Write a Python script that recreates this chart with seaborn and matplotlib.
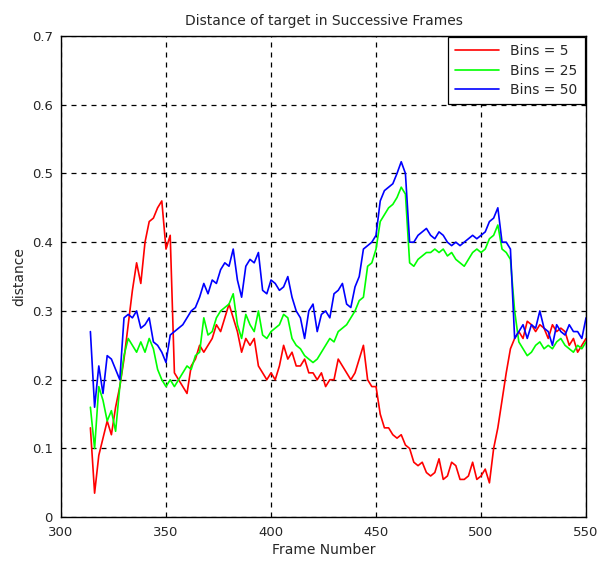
import pandas as pd
import numpy as np
import matplotlib
matplotlib.use("Agg")
import matplotlib.pyplot as plt
import seaborn as sns

# frames every 2 steps
frames = list(range(314, 551, 2))

bins5 = [0.13, 0.035, 0.09, 0.115, 0.14, 0.12, 0.16, 0.19, 0.23, 0.28,
         0.33, 0.37, 0.34, 0.40, 0.43, 0.435, 0.45, 0.46, 0.39, 0.41,
         0.21, 0.20, 0.19, 0.18, 0.22, 0.23, 0.25, 0.24, 0.25, 0.26,
         0.28, 0.27, 0.29, 0.31, 0.29, 0.27, 0.24, 0.26, 0.25, 0.26,
         0.22, 0.21, 0.20, 0.21, 0.20, 0.22, 0.25, 0.23, 0.24, 0.22,
         0.22, 0.23, 0.21, 0.21, 0.20, 0.21, 0.19, 0.20, 0.20, 0.23,
         0.22, 0.21, 0.20, 0.21, 0.23, 0.25, 0.20, 0.19, 0.19, 0.15,
         0.13, 0.13, 0.12, 0.115, 0.12, 0.105, 0.10, 0.08, 0.075, 0.08,
         0.065, 0.06, 0.065, 0.085, 0.055, 0.06, 0.08, 0.075, 0.055, 0.055,
         0.06, 0.08, 0.055, 0.06, 0.07, 0.05, 0.10, 0.13, 0.17, 0.21,
         0.245, 0.26, 0.27, 0.26, 0.285, 0.28, 0.27, 0.28, 0.275, 0.26,
         0.28, 0.27, 0.275, 0.27, 0.25, 0.26, 0.24, 0.25, 0.26]

bins25 = [0.16, 0.10, 0.19, 0.17, 0.14, 0.155, 0.125, 0.19, 0.235, 0.26,
          0.25, 0.24, 0.255, 0.24, 0.26, 0.245, 0.215, 0.20, 0.19, 0.20,
          0.19, 0.20, 0.21, 0.22, 0.215, 0.235, 0.24, 0.29, 0.265, 0.27,
          0.29, 0.30, 0.305, 0.31, 0.325, 0.28, 0.26, 0.295, 0.28, 0.27,
          0.30, 0.265, 0.26, 0.27, 0.275, 0.28, 0.295, 0.29, 0.26, 0.25,
          0.245, 0.235, 0.23, 0.225, 0.23, 0.24, 0.25, 0.26, 0.255, 0.27,
          0.275, 0.28, 0.29, 0.30, 0.315, 0.32, 0.365, 0.37, 0.39, 0.43,
          0.44, 0.45, 0.455, 0.465, 0.48, 0.47, 0.37, 0.365, 0.375, 0.38,
          0.385, 0.385, 0.39, 0.385, 0.39, 0.38, 0.385, 0.375, 0.37, 0.365,
          0.375, 0.385, 0.39, 0.385, 0.39, 0.405, 0.41, 0.425, 0.39, 0.385,
          0.375, 0.30, 0.255, 0.245, 0.235, 0.24, 0.25, 0.255, 0.245, 0.25,
          0.245, 0.255, 0.26, 0.25, 0.245, 0.24, 0.25, 0.245, 0.255]

bins50 = [0.27, 0.16, 0.22, 0.18, 0.235, 0.23, 0.215, 0.20, 0.29, 0.295,
          0.29, 0.30, 0.275, 0.28, 0.29, 0.255, 0.25, 0.24, 0.225, 0.265,
          0.27, 0.275, 0.28, 0.29, 0.30, 0.305, 0.32, 0.34, 0.325, 0.345,
          0.34, 0.36, 0.37, 0.365, 0.39, 0.345, 0.32, 0.365, 0.375, 0.37,
          0.385, 0.33, 0.325, 0.345, 0.34, 0.33, 0.335, 0.35, 0.32, 0.30,
          0.29, 0.26, 0.30, 0.31, 0.27, 0.295, 0.30, 0.29, 0.325, 0.33,
          0.34, 0.31, 0.305, 0.335, 0.35, 0.39, 0.395, 0.40, 0.41, 0.46,
          0.475, 0.48, 0.485, 0.50, 0.517, 0.50, 0.40, 0.40, 0.41, 0.415,
          0.42, 0.41, 0.405, 0.415, 0.41, 0.40, 0.395, 0.40, 0.395, 0.40,
          0.405, 0.41, 0.405, 0.41, 0.415, 0.43, 0.435, 0.45, 0.40, 0.40,
          0.39, 0.26, 0.27, 0.28, 0.26, 0.28, 0.275, 0.30, 0.275, 0.27,
          0.25, 0.28, 0.27, 0.265, 0.28, 0.27, 0.27, 0.26, 0.29]

labels = ["Bins = 5", "Bins = 25", "Bins = 50"]
colors = ["#ff0000", "#00ff00", "#0000ff"]
xticks = [300, 350, 400, 450, 500, 550]
yticks = [0, 0.1, 0.2, 0.3, 0.4, 0.5, 0.6, 0.7]
yticklabels = ["0", "0.1", "0.2", "0.3", "0.4", "0.5", "0.6", "0.7"]

df = pd.DataFrame({
    "frame": frames * 3,
    "distance": bins5 + bins25 + bins50,
    "series": [labels[0]] * len(frames) + [labels[1]] * len(frames) + [labels[2]] * len(frames),
})

sns.set_style("white")
plt.rcParams["font.family"] = ["DejaVu Sans"]

fig = plt.figure(figsize=(5.98, 5.61), dpi=100)
ax = fig.add_axes([0.102, 0.078, 0.878, 0.858])

sns.lineplot(data=df, x="frame", y="distance", hue="series", palette=colors,
             hue_order=labels, linewidth=1.2, ax=ax)

ax.set_xlim(300, 550)
ax.set_ylim(0, 0.7)
ax.set_xticks(xticks)
ax.set_yticks(yticks)
ax.set_yticklabels(yticklabels)
ax.tick_params(direction="in", length=4, labelsize=9.5, color="black")
ax.tick_params(axis="x", pad=6)
ax.tick_params(axis="y", pad=6)
ax.grid(True, color="black", linestyle=(0, (4, 4)), linewidth=0.9)
for s in ax.spines.values():
    s.set_color("black")
    s.set_linewidth(1.0)

ax.set_xlabel("Frame Number", fontsize=10, labelpad=3)
ax.set_ylabel("distance", fontsize=10)
ax.set_title("Distance of target in Successive Frames", fontsize=10, pad=8)

leg = ax.legend(loc="upper right", fontsize=10, frameon=True, fancybox=False,
                edgecolor="black", framealpha=1, borderaxespad=0.1,
                handlelength=3.2, borderpad=0.5, labelspacing=0.4)
leg.get_frame().set_linewidth(0.9)

fig.savefig("out.png", dpi=100)
